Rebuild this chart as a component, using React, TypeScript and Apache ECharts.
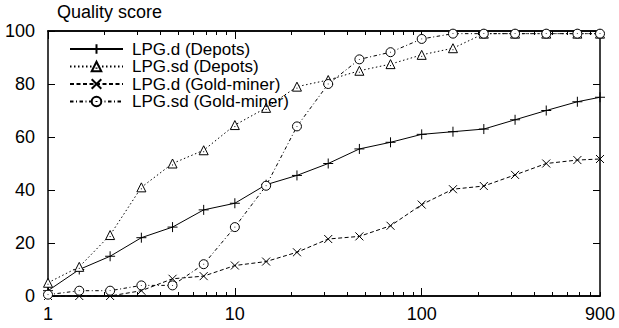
import React, { useEffect, useRef } from "react";
import * as echarts from "echarts";

// Data
const xValues = [1, 1.47, 2.15, 3.16, 4.64, 6.81, 10, 14.7, 21.5, 31.6, 46.4, 68.1, 100, 147, 215, 316, 464, 681, 900];
const lpgdDepots = [2, 10, 15, 22, 26, 32.5, 35, 42, 45.5, 50, 55.5, 58, 61, 62, 63, 66.5, 70, 73.3, 75];
const lpgsdDepots = [5, 11, 23, 41, 50, 55, 64.5, 71, 79, 81.5, 85, 87.5, 91, 93.5, 99, 99, 99, 99, 99];
const lpgdGold = [0, 0, 0, 2, 6.5, 7.5, 11.5, 13, 16.5, 21.5, 22.5, 26.5, 34.5, 40.3, 41.5, 45.7, 50, 51.3, 51.7];
const lpgsdGold = [0.5, 2, 2, 4, 4, 12, 26, 41.6, 64, 80, 89.3, 92, 97, 99, 99, 99, 99, 99, 99];

const seriesNames = ["LPG.d (Depots)", "LPG.sd (Depots)", "LPG.d (Gold-miner)", "LPG.sd (Gold-miner)"];
const xLabelValues = [1, 10, 100, 900];
const xMajorTicks = [1, 10, 100];
const xMinorTicks = [2, 3, 4, 5, 6, 7, 8, 9, 20, 30, 40, 50, 60, 70, 80, 90, 200, 300, 400, 500, 600, 700, 800, 900];
const yTicks = [0, 20, 40, 60, 80, 100];
const titleText = "Quality score";

const FONT = "'Liberation Sans', Arial, Helvetica, sans-serif";
const BLACK = "#000";
const FS = 18;
const LEGEND_FS = 17;

const pair = (ys: number[]) => xValues.map((x, i) => [x, ys[i]]);

const PLUS = "path://M0,5L10,5M5,0L5,10";
const CROSS = "path://M0,0L10,10M10,0L0,10";
const TRI = "path://M5,0L10,9L0,9Z M5,5.5L5,6.5";
const CIRC = "path://M5,0A5,5,0,1,1,5,10A5,5,0,1,1,5,0Z M5,4.6L5,5.4";

export default function App() {
  const ref = useRef<HTMLDivElement>(null);
  useEffect(() => {
    if (!ref.current) return;
    const chart = echarts.init(ref.current, null, { renderer: "svg" });
    const axisLine = { show: true, lineStyle: { color: BLACK, width: 1.5 } };
    const xBase = (position: string, ticks: number[], len: number, labels: boolean) => ({
      type: "log",
      logBase: 10,
      min: 1,
      max: 900,
      position,
      gridIndex: 0,
      axisLine,
      splitLine: { show: false },
      minorTick: { show: false },
      axisTick: { show: true, inside: true, length: len, customValues: ticks, lineStyle: { color: BLACK, width: 1 } },
      axisLabel: labels
        ? { show: true, customValues: xLabelValues, fontSize: FS, color: BLACK, fontFamily: FONT, margin: 9 }
        : { show: false },
    });
    const yBase = (position: string, labels: boolean) => ({
      type: "value",
      min: 0,
      max: 100,
      interval: 20,
      position,
      axisLine,
      splitLine: { show: false },
      axisTick: { show: true, inside: true, length: 7, lineStyle: { color: BLACK, width: 1 } },
      axisLabel: labels
        ? { show: true, customValues: yTicks, fontSize: FS, color: BLACK, fontFamily: FONT, margin: 13 }
        : { show: false },
    });
    const mk = (name: string, ys: number[], symbol: string, size: number, dash: any, fill: string) => ({
      type: "line",
      name,
      data: pair(ys),
      xAxisIndex: 0,
      yAxisIndex: 0,
      symbol,
      symbolSize: size,
      showSymbol: true,
      color: BLACK,
      lineStyle: { color: BLACK, width: 1, type: dash },
      itemStyle: { color: fill, borderColor: BLACK, borderWidth: 1 },
      emphasis: { disabled: true },
      clip: false,
    });
    chart.setOption({
      animation: false,
      backgroundColor: "#fff",
      textStyle: { fontFamily: FONT },
      title: {
        text: titleText,
        left: 57,
        top: 3,
        padding: 0,
        textStyle: { fontSize: FS, fontWeight: "normal", color: BLACK, fontFamily: FONT },
      },
      grid: { left: 48, right: 19, top: 31, bottom: 32, outerBoundsMode: "none", containLabel: false },
      legend: {
        show: true,
        orient: "vertical",
        left: 69,
        top: 40.5,
        padding: 0,
        itemWidth: 53,
        itemHeight: 12,
        itemGap: 0.5,
        selectedMode: false,
        data: seriesNames,
        textStyle: { fontSize: LEGEND_FS, color: BLACK, fontFamily: FONT, padding: [0, 0, 0, 4] },
      },
      xAxis: [
        xBase("bottom", xMajorTicks, 8, true),
        xBase("bottom", xMinorTicks, 4, false),
        xBase("top", xMajorTicks, 8, false),
        xBase("top", xMinorTicks, 4, false),
      ],
      yAxis: [yBase("left", true), yBase("right", false)],
      series: [
        mk(seriesNames[0], lpgdDepots, PLUS, 10, "solid", BLACK),
        mk(seriesNames[1], lpgsdDepots, TRI, 9, [1.5, 2.5], "#fff"),
        mk(seriesNames[2], lpgdGold, CROSS, 8, [4, 2.5], BLACK),
        mk(seriesNames[3], lpgsdGold, CIRC, 9, [3.5, 2.5, 1, 2.5], "#fff"),
      ],
    });
    return () => chart.dispose();
  }, []);
  return <div ref={ref} style={{ position: "fixed", left: 0, top: 0, width: 619, height: 328 }} />;
}
